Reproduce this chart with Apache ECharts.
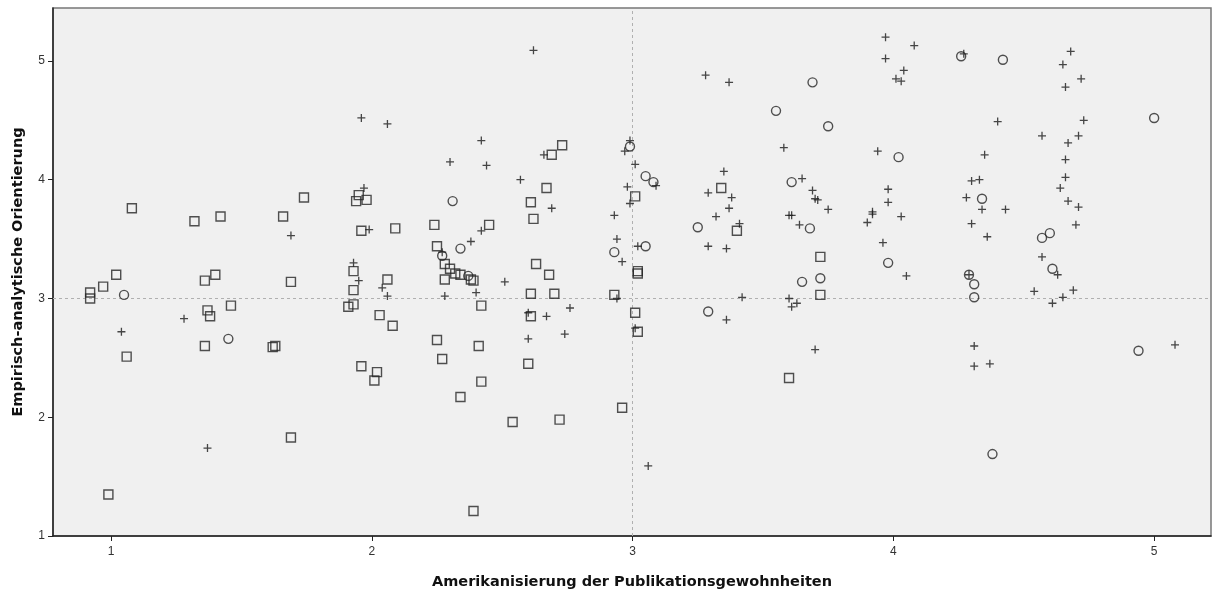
<!DOCTYPE html>
<html>
<head>
<meta charset="utf-8">
<script src="https://cdn.jsdelivr.net/npm/echarts@6/dist/echarts.min.js"></script>
<style>
  html, body { margin: 0; padding: 0; background: #ffffff; }
  #chart { width: 1212px; height: 593px; }
</style>
</head>
<body>
<div id="chart"></div>
<script>
// ---- Data ----
const xTitle = 'Amerikanisierung der Publikationsgewohnheiten';
const yTitle = 'Empirisch-analytische Orientierung';
const xTicks = [1, 2, 3, 4, 5];
const yTicks = [1, 2, 3, 4, 5];
const refX = 3;
const refY = 3;

const squarePoints = [
  [1.08,3.76],[1.32,3.65],[1.42,3.69],[1.66,3.69],[1.74,3.85],[1.02,3.20],[0.97,3.10],
  [0.92,3.05],[0.92,3.00],[1.36,3.15],[1.40,3.20],[1.69,3.14],[1.06,2.51],[1.37,2.90],
  [1.38,2.85],[1.46,2.94],[1.36,2.60],[1.62,2.59],[1.63,2.60],[0.99,1.35],[1.69,1.83],
  [2.69,4.21],[2.73,4.29],[2.67,3.93],[2.61,3.81],[2.62,3.67],[3.01,3.86],
  [1.95,3.87],[1.94,3.82],[1.98,3.83],[1.96,3.57],[2.09,3.59],[2.24,3.62],[2.25,3.44],
  [2.28,3.29],[2.30,3.25],[2.32,3.21],[2.34,3.20],[2.38,3.16],[2.39,3.15],[2.28,3.16],
  [2.45,3.62],[1.93,3.23],[1.93,3.07],[2.06,3.16],[2.63,3.29],[2.68,3.20],[2.61,3.04],
  [2.70,3.04],[2.93,3.03],[3.02,3.23],[3.02,3.21],[1.91,2.93],[1.93,2.95],[2.03,2.86],
  [2.08,2.77],[2.42,2.94],[2.61,2.85],[3.01,2.88],[3.02,2.72],[2.25,2.65],[2.41,2.60],
  [2.27,2.49],[1.96,2.43],[2.02,2.38],[2.01,2.31],[2.42,2.30],[2.60,2.45],[2.34,2.17],
  [2.96,2.08],[2.54,1.96],[2.72,1.98],[2.39,1.21],[3.34,3.93],[3.40,3.57],[3.72,3.35],
  [3.72,3.03],[3.60,2.33]
];

const circlePoints = [
  [1.05,3.03],[1.45,2.66],[2.99,4.28],[3.05,4.03],[2.93,3.39],[3.05,3.44],[2.27,3.36],
  [2.37,3.19],[2.34,3.42],[2.31,3.82],[3.69,4.82],[3.55,4.58],[3.75,4.45],[4.02,4.19],
  [3.08,3.98],[3.25,3.60],[3.61,3.98],[3.68,3.59],[3.72,3.17],[3.65,3.14],[3.98,3.30],
  [3.29,2.89],[4.26,5.04],[4.42,5.01],[5.00,4.52],[4.34,3.84],[4.57,3.51],[4.60,3.55],
  [4.61,3.25],[4.29,3.20],[4.31,3.12],[4.31,3.01],[4.38,1.69],[4.94,2.56]
];

const plusPoints = [
  [1.69,3.53],[1.04,2.72],[1.28,2.83],[1.37,1.74],[2.62,5.09],[1.96,4.52],[2.06,4.47],
  [2.42,4.33],[2.30,4.15],[2.44,4.12],[2.66,4.21],[2.57,4.00],[2.69,3.76],[2.99,4.33],
  [2.97,4.24],[3.01,4.13],[2.98,3.94],[2.99,3.80],[2.93,3.70],[2.94,3.50],[2.96,3.31],
  [3.02,3.44],[1.97,3.93],[1.99,3.58],[2.27,3.39],[2.38,3.48],[2.42,3.57],[1.93,3.30],
  [1.95,3.15],[2.04,3.09],[2.06,3.02],[2.28,3.02],[2.40,3.05],[2.51,3.14],[2.94,3.00],
  [2.60,2.88],[2.67,2.85],[2.76,2.92],[3.01,2.75],[2.60,2.66],[2.74,2.70],[3.06,1.59],
  [3.97,5.20],[4.08,5.13],[3.97,5.02],[4.04,4.92],[4.01,4.85],[4.03,4.83],[3.28,4.88],
  [3.37,4.82],[3.58,4.27],[3.94,4.24],[3.09,3.95],[3.35,4.07],[3.29,3.89],[3.38,3.85],
  [3.37,3.76],[3.32,3.69],[3.41,3.63],[3.29,3.44],[3.36,3.42],[3.42,3.01],[3.65,4.01],
  [3.69,3.91],[3.70,3.84],[3.71,3.83],[3.75,3.75],[3.60,3.70],[3.61,3.70],[3.64,3.62],
  [3.60,3.00],[3.61,2.93],[3.63,2.96],[3.70,2.57],[3.36,2.82],[3.98,3.92],[3.98,3.81],
  [3.92,3.73],[3.92,3.71],[3.90,3.64],[4.03,3.69],[3.96,3.47],[4.05,3.19],[4.27,5.06],
  [4.68,5.08],[4.65,4.97],[4.72,4.85],[4.66,4.78],[4.40,4.49],[4.73,4.50],[4.57,4.37],
  [4.71,4.37],[4.67,4.31],[4.35,4.21],[4.66,4.17],[4.66,4.02],[4.30,3.99],[4.33,4.00],
  [4.64,3.93],[4.28,3.85],[4.34,3.75],[4.43,3.75],[4.67,3.82],[4.71,3.77],[4.30,3.63],
  [4.70,3.62],[4.36,3.52],[4.57,3.35],[4.63,3.20],[4.29,3.20],[4.54,3.06],[4.69,3.07],
  [4.65,3.01],[4.61,2.96],[4.31,2.60],[4.31,2.43],[4.37,2.45],[5.08,2.61]
];

// ---- Chart ----
const chart = echarts.init(document.getElementById('chart'), null, { renderer: 'canvas' });
const markStyle = { color: 'transparent', borderColor: '#262626', borderWidth: 1.4 };
const labelFont = '"Liberation Sans", Arial, sans-serif';
const titleFont = '"DejaVu Sans", "Liberation Sans", sans-serif';

const option = {
  animation: false,
  backgroundColor: '#ffffff',
  grid: {
    left: 53, right: 1, top: 8, bottom: 57,
    containLabel: false,
    outerBoundsMode: 'none',
    show: true, backgroundColor: '#f0f0f0', borderColor: '#777777', borderWidth: 1.5
  },
  xAxis: {
    type: 'value',
    min: 0.7776, max: 5.218,
    name: xTitle,
    nameLocation: 'middle',
    nameGap: 39,
    nameTextStyle: { fontFamily: titleFont, fontWeight: 'bold', fontSize: 14.5, color: '#111' },
    axisLine: { show: true, onZero: false, lineStyle: { color: '#222', width: 1.5 } },
    axisTick: { show: true, customValues: xTicks, length: 5, lineStyle: { color: '#222', width: 1 } },
    axisLabel: { show: true, customValues: xTicks, margin: 10, fontFamily: labelFont, fontSize: 12, color: '#333' },
    splitLine: { show: false }
  },
  yAxis: {
    type: 'value',
    min: 1, max: 5.446,
    name: yTitle,
    nameLocation: 'middle',
    nameRotate: 90,
    nameGap: 27,
    nameTextStyle: { fontFamily: titleFont, fontWeight: 'bold', fontSize: 14.5, color: '#111' },
    axisLine: { show: true, onZero: false, lineStyle: { color: '#222', width: 1.5 } },
    axisTick: { show: true, customValues: yTicks, length: 5, lineStyle: { color: '#222', width: 1 } },
    axisLabel: { show: true, customValues: yTicks, margin: 8, fontFamily: labelFont, fontSize: 12, color: '#333' },
    splitLine: { show: false }
  },
  series: [
    {
      type: 'scatter', name: 'square', symbol: 'rect', symbolSize: 9,
      itemStyle: markStyle, data: squarePoints, z: 3,
      markLine: {
        silent: true, symbol: 'none', label: { show: false },
        lineStyle: { color: '#b0b0b0', type: [3, 3], width: 1 },
        data: [{ xAxis: refX }, { yAxis: refY }],
        z: 1
      }
    },
    {
      type: 'scatter', name: 'circle', symbol: 'circle', symbolSize: 9,
      itemStyle: markStyle, data: circlePoints, z: 3
    },
    {
      type: 'scatter', name: 'plus', symbol: 'path://M4,0L4,8M0,4L8,4', symbolSize: 8,
      itemStyle: { color: 'transparent', borderColor: '#1a1a1a', borderWidth: 1.3 },
      data: plusPoints, z: 3
    }
  ]
};
chart.setOption(option);
</script>
</body>
</html>
